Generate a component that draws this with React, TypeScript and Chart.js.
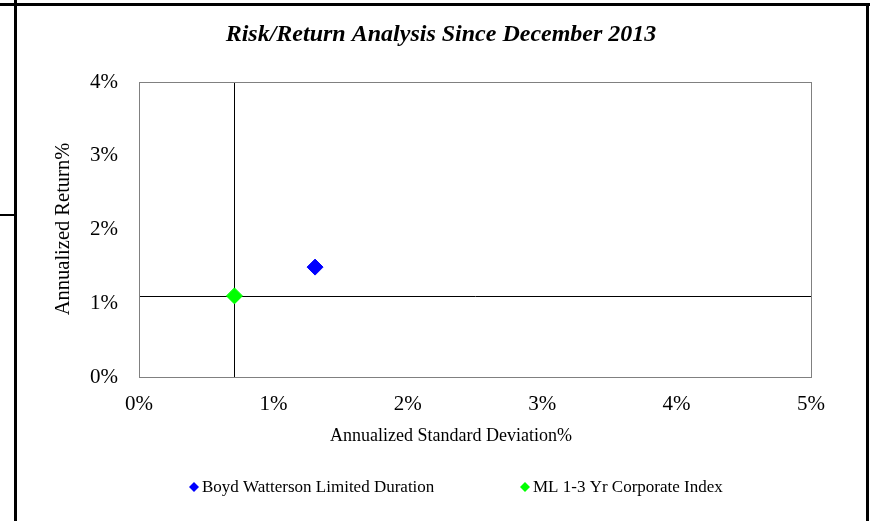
import React, { useEffect, useRef } from "react";
import { Chart, registerables } from "chart.js";

Chart.register(...registerables);

const chartTitle = "Risk/Return Analysis Since December 2013";
const xAxisTitle = "Annualized Standard Deviation%";
const yAxisTitle = "Annualized Return%";
const seriesNames = ["Boyd Watterson Limited Duration", "ML 1-3 Yr Corporate Index"];
const seriesColors = ["#0000FF", "#00FF00"];
const stdDevValues = [1.31, 0.71];
const returnValues = [1.49, 1.1];
const xTickValues = [0, 1, 2, 3, 4, 5];
const yTickValues = [0, 1, 2, 3, 4];
const benchmarkIndex = 1;

const SERIF = "'Liberation Serif', 'Times New Roman', serif";

const decorPlugin = {
  id: "decor",
  beforeDatasetsDraw(chart: any) {
    const { ctx, chartArea, scales } = chart;
    const bx = Math.round(scales.x.getPixelForValue(stdDevValues[benchmarkIndex])) + 0.5;
    const by = Math.round(scales.y.getPixelForValue(returnValues[benchmarkIndex])) + 0.5;
    ctx.save();
    // plot border
    ctx.strokeStyle = "#808080";
    ctx.lineWidth = 1;
    ctx.strokeRect(chartArea.left + 0.5, chartArea.top + 0.5, chartArea.right - chartArea.left, chartArea.bottom - chartArea.top);
    // crosshair at benchmark
    ctx.strokeStyle = "#000000";
    ctx.beginPath();
    ctx.moveTo(bx, chartArea.top + 1);
    ctx.lineTo(bx, chartArea.bottom);
    ctx.moveTo(chartArea.left + 1, by);
    ctx.lineTo(chartArea.right, by);
    ctx.stroke();
    ctx.restore();
  },
  afterDraw(chart: any) {
    const { ctx } = chart;
    ctx.save();
    ctx.fillStyle = "#000000";
    // title
    ctx.font = `bold italic 24px ${SERIF}`;
    ctx.textAlign = "center";
    ctx.textBaseline = "middle";
    ctx.fillText(chartTitle, 441, 35);
    // axis titles
    ctx.font = `18px ${SERIF}`;
    ctx.fillText(xAxisTitle, 451, 436);
    ctx.save();
    ctx.translate(64, 229);
    ctx.rotate(-Math.PI / 2);
    ctx.font = `20.5px ${SERIF}`;
    ctx.fillText(yAxisTitle, 0, 0);
    ctx.restore();
    // legend
    const legendX = [194, 525];
    const legendY = 487;
    ctx.textAlign = "left";
    ctx.font = `17px ${SERIF}`;
    seriesNames.forEach((name, i) => {
      ctx.fillStyle = seriesColors[i];
      ctx.beginPath();
      const r = 5;
      const cx = legendX[i];
      ctx.moveTo(cx, legendY - r);
      ctx.lineTo(cx + r, legendY);
      ctx.lineTo(cx, legendY + r);
      ctx.lineTo(cx - r, legendY);
      ctx.closePath();
      ctx.fill();
      ctx.fillStyle = "#000000";
      ctx.fillText(name, cx + 8, legendY + 1);
    });
    // page frame
    ctx.fillStyle = "#000000";
    ctx.fillRect(0, 3, 870, 3);
    ctx.fillRect(14, 0, 3, 521);
    ctx.fillRect(866, 3, 3, 518);
    ctx.fillRect(0, 214, 15, 2);
    ctx.restore();
  },
};

export default function App() {
  const canvasRef = useRef<HTMLCanvasElement | null>(null);

  useEffect(() => {
    const canvas = canvasRef.current;
    if (!canvas) return;
    const chart = new Chart(canvas, {
      type: "scatter",
      data: {
        datasets: seriesNames.map((name, i) => ({
          label: name,
          data: [{ x: stdDevValues[i], y: returnValues[i] }],
          pointStyle: "rectRot",
          pointRadius: 8,
          pointHoverRadius: 8,
          backgroundColor: seriesColors[i],
          borderColor: seriesColors[i],
          borderWidth: 1,
        })),
      },
      options: {
        responsive: false,
        animation: false,
        events: [],
        layout: { padding: { left: 0, top: 82, right: 62, bottom: 0 } },
        plugins: {
          legend: { display: false },
          title: { display: false },
          tooltip: { enabled: false },
        },
        scales: {
          x: {
            type: "linear",
            min: xTickValues[0],
            max: xTickValues[xTickValues.length - 1],
            grid: { display: false, drawTicks: false },
            border: { display: false },
            afterFit: (scale: any) => {
              scale.height = 144;
            },
            afterBuildTicks: (scale: any) => {
              scale.ticks = xTickValues.map((v) => ({ value: v }));
            },
            ticks: {
              padding: 15,
              color: "#000000",
              font: { family: SERIF, size: 21 },
              callback: (v: any) => `${v}%`,
            },
          },
          y: {
            type: "linear",
            min: yTickValues[0],
            max: yTickValues[yTickValues.length - 1],
            grid: { display: false, drawTicks: false },
            border: { display: false },
            afterFit: (scale: any) => {
              scale.width = 139;
            },
            afterBuildTicks: (scale: any) => {
              scale.ticks = yTickValues.map((v) => ({ value: v }));
            },
            ticks: {
              padding: 21,
              color: "#000000",
              font: { family: SERIF, size: 21 },
              callback: (v: any) => `${v}%`,
            },
          },
        },
      },
      plugins: [decorPlugin],
    });
    return () => chart.destroy();
  }, []);

  return (
    <div style={{ position: "absolute", left: 0, top: 0, width: 873, height: 521, background: "#ffffff" }}>
      <canvas ref={canvasRef} width={873} height={521} style={{ display: "block" }} />
    </div>
  );
}
